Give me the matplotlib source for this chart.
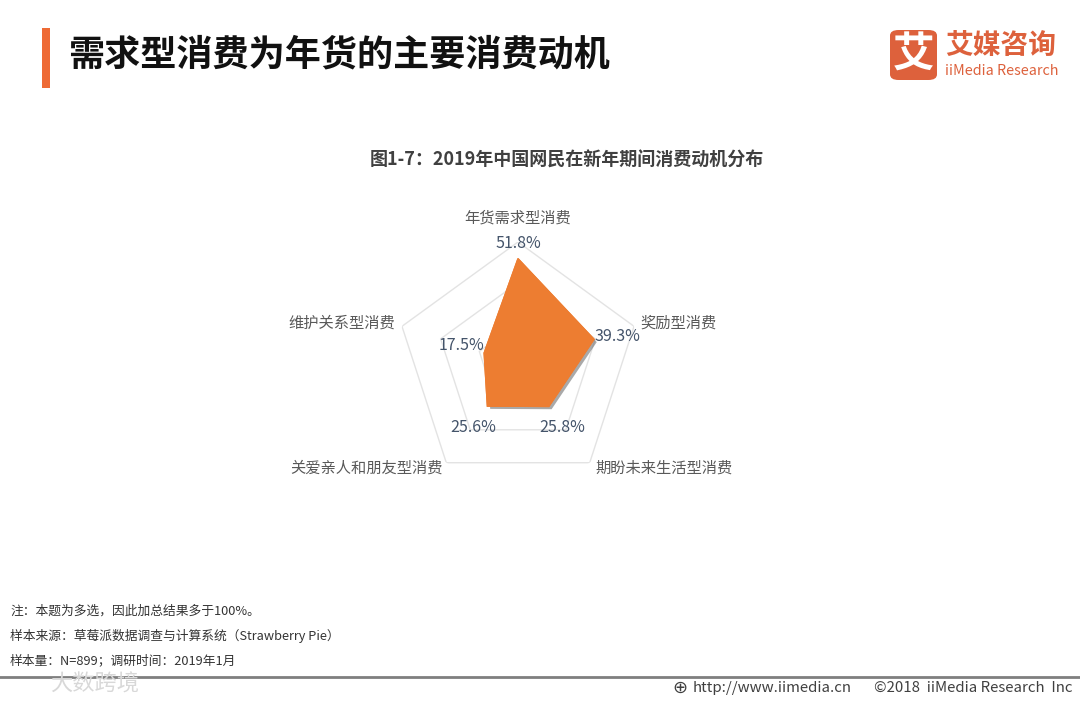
import numpy as np
import matplotlib
matplotlib.use("Agg")
import matplotlib.pyplot as plt
import matplotlib.patheffects as pe
from matplotlib.patches import FancyBboxPatch, Rectangle

plt.rcParams['font.family'] = ['Noto Sans CJK SC', 'DejaVu Sans']

# data
categories = ["年货需求型消费", "奖励型消费", "期盼未来生活型消费", "关爱亲人和朋友型消费", "维护关系型消费"]
values = [51.8, 39.3, 25.8, 25.6, 17.5]
grid_levels = [20, 40, 60]
r_max = 60

title = "需求型消费为年货的主要消费动机"
chart_title = "图1-7：2019年中国网民在新年期间消费动机分布"
notes = ["注：本题为多选，因此加总结果多于100%。",
         "样本来源：草莓派数据调查与计算系统（Strawberry Pie）",
         "样本量：N=899；调研时间：2019年1月"]

W, H = 1080, 702
fig = plt.figure(figsize=(W / 100, H / 100), dpi=100)
fig.patch.set_facecolor("white")

# header
fig.add_artist(Rectangle((42 / W, 1 - 88 / H), 8 / W, 60 / H, transform=fig.transFigure,
                         facecolor="#EE6A35", edgecolor="none"))
fig.text(68 / W, 1 - 55 / H, title, fontsize=26, fontweight="bold", color="#111111",
         ha="left", va="center")

# logo
fig.add_artist(FancyBboxPatch((890 / W, 1 - 80 / H), 47 / W, 50 / H, transform=fig.transFigure,
                              boxstyle="round,pad=0,rounding_size=0.008",
                              facecolor="#DD613C", edgecolor="none"))
fig.text(913.5 / W, 1 - 56 / H, "艾", fontsize=30, fontweight="bold", color="white",
         ha="center", va="center")
fig.text(945 / W, 1 - 46 / H, "艾媒咨询", fontsize=20, fontweight="bold", color="#DD613C",
         ha="left", va="center")
fig.text(945 / W, 1 - 71 / H, "iiMedia Research", fontsize=10.3, color="#DD613C",
         ha="left", va="center")

fig.text(567 / W, 1 - 160 / H, chart_title, fontsize=13, fontweight="bold", color="#404040",
         ha="center", va="center")

# radar
cx, cy, R = 518, 364, 122
ax = fig.add_axes([(cx - R) / W, (H - cy - R) / H, 2 * R / W, 2 * R / H], projection="polar")
ax.set_theta_offset(np.pi / 2)
ax.set_theta_direction(-1)
ax.set_ylim(0, r_max)
ax.set_xticks([])
ax.set_yticks([])
ax.grid(False)
ax.spines["polar"].set_visible(False)
ax.patch.set_alpha(0)

n = len(categories)
theta = np.arange(n) * 2 * np.pi / n
theta_c = np.append(theta, theta[0])

for lv in grid_levels:
    ax.plot(theta_c, [lv] * (n + 1), color="#E3E3E3", lw=1, zorder=1)

vals_c = np.append(values, values[0])
ax.fill(theta_c, vals_c, color="#ED7D31", zorder=3,
        path_effects=[pe.withSimplePatchShadow(offset=(2, -2), shadow_rgbFace="#555555", alpha=0.5),
                      pe.Normal()])

# category labels
cat_off = [((0, 24), "center"), ((6, 3), "left"), ((6, -5), "left"),
           ((-3, -5), "right"), ((-7, 3), "right")]
for t, lab, (off, ha) in zip(theta, categories, cat_off):
    ax.annotate(lab, xy=(t, r_max), xytext=off, textcoords="offset pixels",
                ha=ha, va="center", fontsize=11, color="#595959", annotation_clip=False)

# value labels
val_off = [(0, 15), (23, 3), (13, -21), (-14, -21), (-23, 8)]
for t, v, off in zip(theta, values, val_off):
    ax.annotate(f"{v}%", xy=(t, v), xytext=off, textcoords="offset pixels",
                ha="center", va="center", fontsize=11.5, color="#44546A", zorder=5,
                annotation_clip=False)

# footer notes
for i, s in enumerate(notes):
    fig.text(10 / W, 1 - (611 + 25 * i) / H, s, fontsize=9.2, color="#333333",
             ha="left", va="center")

fig.text(95 / W, 1 - 684 / H, "大数跨境", fontsize=16, color="#D8D8D8", ha="center", va="center")
fig.add_artist(plt.Line2D([0, 1], [1 - 677 / H, 1 - 677 / H], transform=fig.transFigure,
                          color="#7F7F7F", lw=2))
fig.text(680 / W, 1 - 688 / H, "⊕", fontsize=13, color="#404040", ha="center", va="center",
         family="DejaVu Sans")
fig.text(693 / W, 1 - 688 / H, "http://www.iimedia.cn", fontsize=10.8, color="#404040",
         ha="left", va="center")
fig.text(1072 / W, 1 - 688 / H, "©2018  iiMedia Research  Inc", fontsize=10.8, color="#404040",
         ha="right", va="center")

fig.savefig("out.png", dpi=100)
